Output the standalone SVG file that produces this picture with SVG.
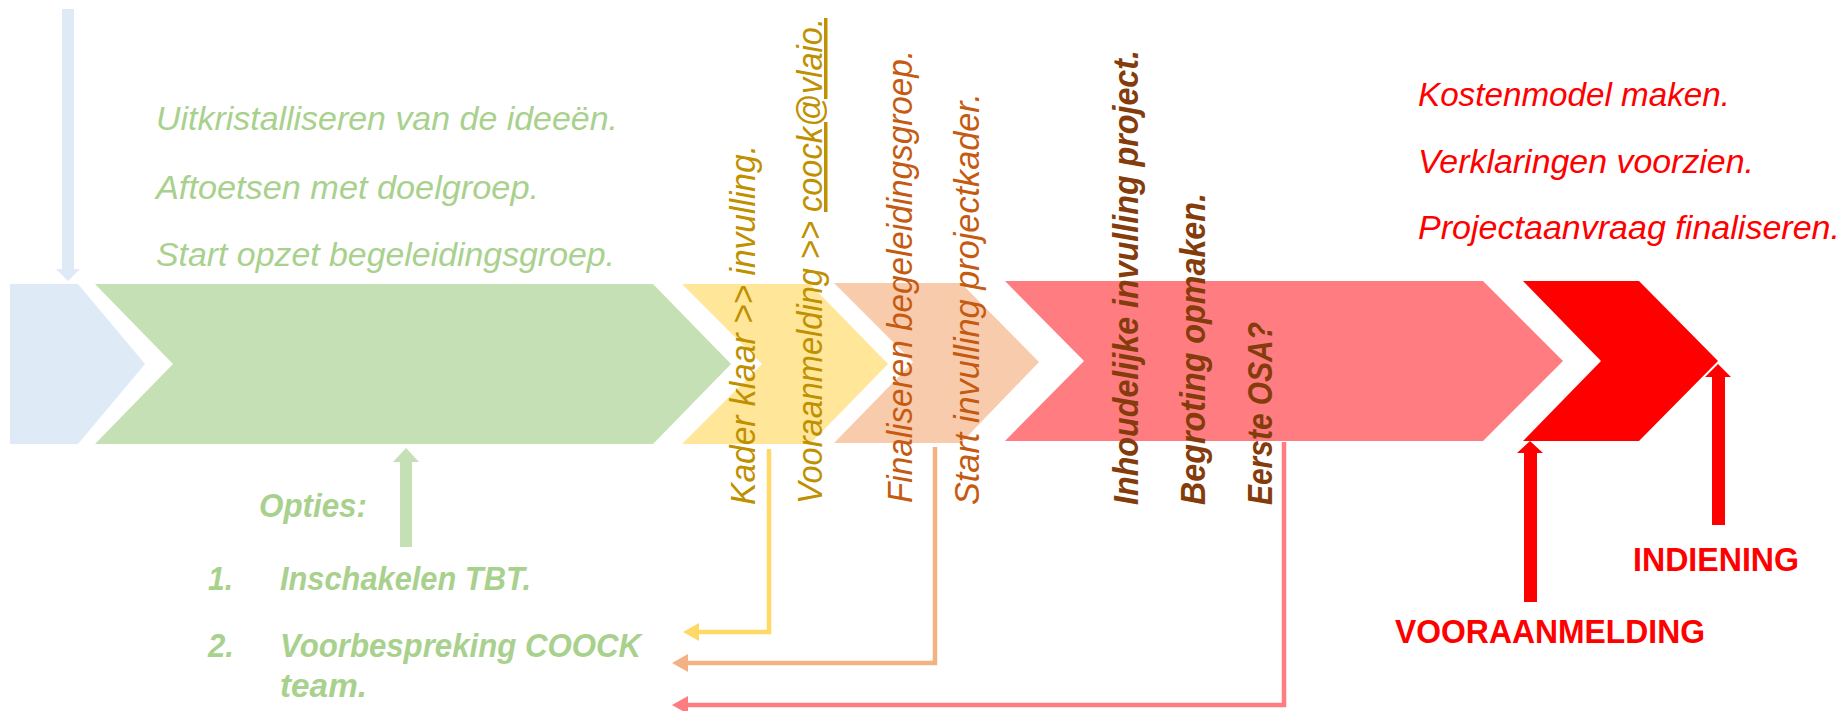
<svg xmlns="http://www.w3.org/2000/svg" width="1843" height="711" viewBox="0 0 1843 711">
<style>
.it{font-family:"Liberation Sans",Arial,sans-serif;font-style:italic;font-size:33px}
.bi{font-family:"Liberation Sans",Arial,sans-serif;font-style:italic;font-weight:bold;font-size:33px}
.vt{font-family:"Liberation Sans",Arial,sans-serif;font-style:italic;font-size:35px}
.vb{font-family:"Liberation Sans",Arial,sans-serif;font-style:italic;font-weight:bold;font-size:35px}
.b{font-family:"Liberation Sans",Arial,sans-serif;font-weight:bold;font-size:33px}
.green{fill:#A9D18E}
.red{fill:#FF0000}
.yel{fill:#BF9000}
.org{fill:#C55A11}
.brn{fill:#843C0C}
.conn{fill:none;stroke-width:4.5}
</style>
<defs>
<marker id="ahY" markerUnits="userSpaceOnUse" markerWidth="16" markerHeight="18" refX="0" refY="9" orient="auto" viewBox="0 0 16 18"><path d="M0,0 L16,9 L0,18 Z" fill="#FFD966"/></marker>
<marker id="ahP" markerUnits="userSpaceOnUse" markerWidth="16" markerHeight="18" refX="0" refY="9" orient="auto" viewBox="0 0 16 18"><path d="M0,0 L16,9 L0,18 Z" fill="#F4B183"/></marker>
<marker id="ahS" markerUnits="userSpaceOnUse" markerWidth="16" markerHeight="18" refX="0" refY="9" orient="auto" viewBox="0 0 16 18"><path d="M0,0 L16,9 L0,18 Z" fill="#FF7C80"/></marker>
</defs>
<rect width="1843" height="711" fill="#FFFFFF"/>

<g id="chevron-blue"><polygon points="10,284 78,284 145,364 78,444 10,444" fill="#DEEBF7"/></g>
<g id="chevron-green"><polygon points="95,284 653,284 731,364 653,444 95,444 173,364" fill="#C5E0B4"/></g>
<g id="chevron-yellow"><polygon points="682,284 810,284 888,364 810,444 682,444 762,364" fill="#FFE699"/></g>
<g id="chevron-peach"><polygon points="834,283 961,283 1039,362 961,443 834,443 913,362" fill="#F8CBAD"/></g>
<g id="chevron-salmon"><polygon points="1005,281 1483,281 1563,361 1483,441 1005,441 1084,361" fill="#FF7C80"/></g>
<g id="chevron-red"><polygon points="1523,281 1639,281 1718,361 1639,441 1523,441 1601,361" fill="#FF0000"/></g>

<g id="arrow-blue"><polygon points="62,9 74,9 74,269 80,269 68,281 56,269 62,269" fill="#DEEBF7"/></g>
<g id="arrow-green"><polygon points="400,547 412,547 412,462 419,462 406,448 393,462 400,462" fill="#C5E0B4"/></g>
<g id="arrow-vooraanmelding"><polygon points="1524,602 1537,602 1537,453 1543,453 1530,441 1517,453 1524,453" fill="#FF0000"/></g>
<g id="arrow-indiening"><polygon points="1712,525 1725,525 1725,377 1731,377 1718,364 1705,377 1712,377" fill="#FF0000"/></g>

<g id="text-green-top" class="it green">
<text x="156" y="130" textLength="462" lengthAdjust="spacingAndGlyphs">Uitkristalliseren van de ideeën.</text>
<text x="156" y="199" textLength="383" lengthAdjust="spacingAndGlyphs">Aftoetsen met doelgroep.</text>
<text x="156" y="266" textLength="459" lengthAdjust="spacingAndGlyphs">Start opzet begeleidingsgroep.</text>
</g>

<g id="text-opties" class="bi green">
<text x="259" y="517" textLength="108" lengthAdjust="spacingAndGlyphs">Opties:</text>
<text x="208" y="590" textLength="25" lengthAdjust="spacingAndGlyphs">1.</text>
<text x="280" y="590" textLength="251" lengthAdjust="spacingAndGlyphs">Inschakelen TBT.</text>
<text x="208" y="657" textLength="26" lengthAdjust="spacingAndGlyphs">2.</text>
<text x="280" y="657" textLength="361" lengthAdjust="spacingAndGlyphs">Voorbespreking COOCK</text>
<text x="280" y="697" textLength="87" lengthAdjust="spacingAndGlyphs">team.</text>
</g>

<g id="text-red-top" class="it red">
<text x="1418" y="106" textLength="312" lengthAdjust="spacingAndGlyphs">Kostenmodel maken.</text>
<text x="1418" y="173" textLength="336" lengthAdjust="spacingAndGlyphs">Verklaringen voorzien.</text>
<text x="1418" y="239" textLength="422" lengthAdjust="spacingAndGlyphs">Projectaanvraag finaliseren.</text>
</g>

<g id="text-yellow">
<text class="vt yel" transform="translate(755,505) rotate(-90)" textLength="360" lengthAdjust="spacingAndGlyphs">Kader klaar &gt;&gt; invulling.</text>
<text class="vt yel" transform="translate(822,504) rotate(-90)" textLength="486" lengthAdjust="spacingAndGlyphs">Vooraanmelding &gt;&gt; <tspan text-decoration="underline">coock@vlaio.</tspan></text>
</g>

<g id="text-peach">
<text class="vt org" transform="translate(912,503) rotate(-90)" textLength="453" lengthAdjust="spacingAndGlyphs">Finaliseren begeleidingsgroep.</text>
<text class="vt org" transform="translate(979,505) rotate(-90)" textLength="412" lengthAdjust="spacingAndGlyphs">Start invulling projectkader.</text>
</g>

<g id="text-salmon">
<text class="vb brn" transform="translate(1138,505) rotate(-90)" textLength="455" lengthAdjust="spacingAndGlyphs">Inhoudelijke invulling project.</text>
<text class="vb brn" transform="translate(1205,505) rotate(-90)" textLength="312" lengthAdjust="spacingAndGlyphs">Begroting opmaken.</text>
<text class="vb brn" transform="translate(1272,505) rotate(-90)" textLength="183" lengthAdjust="spacingAndGlyphs">Eerste OSA?</text>
</g>

<g id="label-vooraanmelding" class="b red"><text x="1395" y="643" textLength="310" lengthAdjust="spacingAndGlyphs">VOORAANMELDING</text></g>
<g id="label-indiening" class="b red"><text x="1633" y="571" textLength="166" lengthAdjust="spacingAndGlyphs">INDIENING</text></g>

<g id="connectors">
<path class="conn" stroke="#FFD966" d="M769,449 V632 H699" marker-end="url(#ahY)"/>
<path class="conn" stroke="#F4B183" d="M935,447 V663 H688" marker-end="url(#ahP)"/>
<path class="conn" stroke="#FF7C80" d="M1284,442 V705 H688" marker-end="url(#ahS)"/>
</g>
</svg>
